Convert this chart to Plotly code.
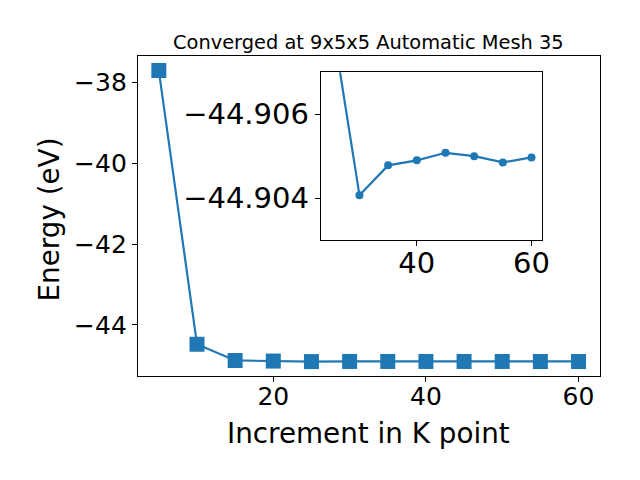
import plotly.graph_objects as go

kpoints = [5, 10, 15, 20, 25, 30, 35, 40, 45, 50, 55, 60]
energy = [-37.70, -44.48, -44.88, -44.895, -44.9084, -44.90407, -44.90478,
          -44.9049, -44.90508, -44.9050, -44.90485, -44.90497]
inset_start = 4  # inset shows from 25 onward

title_text = "Converged at 9x5x5 Automatic Mesh 35"
xlabel = "Increment in K point"
ylabel = "Energy (eV)"

blue = "#1f77b4"
font = "DejaVu Sans"

W, H = 640, 480
OFFX, OFFY = 4, 8  # page offsets of the figure


def px(x):
    return (x - OFFX) / W


def py(y):
    return 1 - (y - OFFY) / H


fig = go.Figure()
fig.add_trace(go.Scatter(
    x=kpoints, y=energy, mode="lines+markers",
    line=dict(color=blue, width=2.2),
    marker=dict(symbol="square", size=15, color=blue),
    xaxis="x", yaxis="y", showlegend=False))
fig.add_trace(go.Scatter(
    x=kpoints[inset_start:], y=energy[inset_start:], mode="lines+markers",
    line=dict(color=blue, width=2.2),
    marker=dict(symbol="circle", size=8, color=blue),
    xaxis="x2", yaxis="y2", showlegend=False))

axis_common = dict(showgrid=False, zeroline=False, showline=True, linecolor="black",
                   linewidth=1, mirror=True, ticks="outside", ticklen=5, tickwidth=1,
                   tickcolor="black")

fig.update_layout(
    width=W, height=H,
    margin=dict(l=0, r=0, t=0, b=0),
    paper_bgcolor="white", plot_bgcolor="white",
    font=dict(family=font, color="black"),
    xaxis=dict(domain=[px(135.5), px(603)], range=[2.25, 62.75], dtick=20,
               anchor="y", tickfont=dict(size=25), ticklabelstandoff=-7,
               **axis_common),
    yaxis=dict(domain=[py(376), py(56)], range=[-45.265, -37.34], dtick=2,
               anchor="x", tickfont=dict(size=25), **axis_common),
    xaxis2=dict(domain=[px(320.7), px(544.3)], range=[23.25, 61.75], dtick=20,
                anchor="y2", tickfont=dict(size=29), ticklabelstandoff=-8,
                **axis_common),
    yaxis2=dict(domain=[py(240), py(72.3)], range=[-44.903, -44.907],
                tickvals=[-44.906, -44.904], tickformat=".3f",
                anchor="x2", tickfont=dict(size=29), **axis_common),
    annotations=[
        dict(text=title_text, x=px(369), y=py(43), xref="paper", yref="paper",
             showarrow=False, font=dict(size=19.4), xanchor="center", yanchor="middle"),
        dict(text=xlabel, x=px(369), y=py(433), xref="paper", yref="paper",
             showarrow=False, font=dict(size=27.8), xanchor="center", yanchor="middle"),
        dict(text=ylabel, x=px(46), y=py(219), xref="paper", yref="paper",
             showarrow=False, font=dict(size=27.8), textangle=-90,
             xanchor="center", yanchor="middle"),
    ],
)

fig.write_html("out.html")
